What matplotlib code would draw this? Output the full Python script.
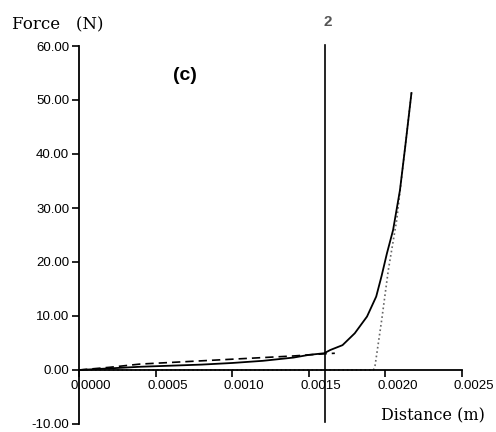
import matplotlib
matplotlib.use("Agg")
import matplotlib.pyplot as plt
import matplotlib.transforms as mtransforms

# loading curve (solid)
loadX = [0, 0.0002, 0.0004, 0.0006, 0.0008, 0.0010, 0.0012, 0.0014, 0.0015,
         0.0016, 0.00164, 0.00172, 0.0018, 0.00188, 0.00194, 0.001975, 0.00201,
         0.00205, 0.002095, 0.00213, 0.00217]
loadY = [0, 0.3, 0.6, 0.8, 1.0, 1.3, 1.7, 2.3, 2.8,
         3.1, 3.7, 4.6, 6.8, 9.9, 13.6, 17.4, 21.6,
         25.9, 33.3, 41.5, 51.3]

# dashed curve
dashX = [0, 0.0002, 0.0004, 0.0006, 0.0008, 0.0010, 0.0012, 0.0014, 0.0016, 0.00167]
dashY = [0, 0.5, 1.1, 1.4, 1.7, 2.0, 2.3, 2.6, 3.0, 3.1]

# unloading curve (dotted)
unloadX = [0.00217, 0.00212, 0.002074, 0.002019, 0.001976, 0.001933, 0.001922, 0.0]
unloadY = [51.3, 39.1, 27.8, 18.5, 9.3, 0.9, 0.0, 0.0]

markerX = 0.001608
xTicks = [0, 0.0005, 0.0010, 0.0015, 0.0020, 0.0025]
yTicks = [-10, 0, 10, 20, 30, 40, 50, 60]

fig = plt.figure(figsize=(4.96, 4.32), dpi=100)
ax = fig.add_axes([79/496, 8/432, 383/496, 378/432])

ax.plot(unloadX, unloadY, color='#666666', linestyle=':', linewidth=1.2)
ax.plot(dashX, dashY, color='black', linestyle='--', linewidth=1.2, dashes=(5, 3))
ax.plot(loadX, loadY, color='black', linewidth=1.3)
ax.plot([markerX, markerX], [-9.6, 60.2], color='black', linewidth=1.2, clip_on=False)

ax.set_xlim(0, 0.0025)
ax.set_ylim(-10, 60)
ax.spines['top'].set_visible(False)
ax.spines['right'].set_visible(False)
ax.spines['bottom'].set_position(('data', 0))
ax.spines['left'].set_linewidth(1.3)
ax.spines['bottom'].set_linewidth(1.3)

ax.set_xticks(xTicks)
ax.set_xticklabels(['%.4f' % v for v in xTicks])
ax.set_yticks(yTicks)
ax.set_yticklabels(['%.2f' % v for v in yTicks])
ax.tick_params(axis='both', direction='out', length=5, width=1.2,
               labelsize=9.5, pad=2)
for lab in ax.get_xticklabels() + ax.get_yticklabels():
    lab.set_fontfamily('Liberation Sans')
shift = mtransforms.ScaledTranslation(12/100, 0, fig.dpi_scale_trans)
for lab in ax.get_xticklabels():
    lab.set_transform(lab.get_transform() + shift)

fig.text(12/496, 1 - 25/432, 'Force   (N)', family='DejaVu Serif', fontsize=12,
         va='center', ha='left')
fig.text(485/496, 1 - 416/432, 'Distance (m)', family='DejaVu Serif', fontsize=11.5,
         va='center', ha='right')
fig.text(185/496, 1 - 75/432, '(c)', family='Liberation Sans', fontweight='bold',
         fontsize=14, va='center', ha='center')
fig.text(328/496, 1 - 22/432, '2', family='Liberation Sans', fontweight='bold',
         fontsize=11, color='#555555', va='center', ha='center')

fig.savefig('out.png', dpi=100)
